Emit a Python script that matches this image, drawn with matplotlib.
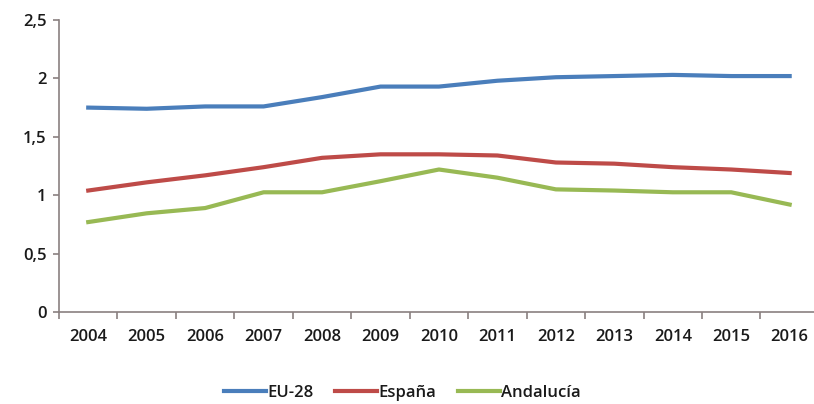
import matplotlib
matplotlib.use("Agg")
import matplotlib.pyplot as plt
from matplotlib.ticker import FixedLocator, FuncFormatter

years = ["2004", "2005", "2006", "2007", "2008", "2009", "2010",
         "2011", "2012", "2013", "2014", "2015", "2016"]
eu28 = [1.75, 1.74, 1.76, 1.76, 1.84, 1.93, 1.93, 1.98, 2.01, 2.02, 2.03, 2.02, 2.02]
espana = [1.04, 1.11, 1.17, 1.24, 1.32, 1.35, 1.35, 1.34, 1.28, 1.27, 1.24, 1.22, 1.19]
andalucia = [0.77, 0.845, 0.89, 1.025, 1.025, 1.12, 1.22, 1.15, 1.05, 1.04, 1.025, 1.025, 0.92]
series_names = ["EU-28", "España", "Andalucía"]
colors = ["#4A7EBB", "#BE4B48", "#98B954"]
yticks = [0, 0.5, 1, 1.5, 2, 2.5]

plt.rcParams['font.family'] = ['Open Sans', 'DejaVu Sans']

fig = plt.figure(figsize=(8.14, 4.04), dpi=100)
ax = fig.add_axes([0.0725, 0.2277, 0.9335, 0.7228])

x = list(range(len(years)))
for vals, name, c in zip([eu28, espana, andalucia], series_names, colors):
    ax.plot(x, vals, color=c, lw=3.0, label=name, solid_joinstyle='round')

ax.set_xlim(-0.5, len(years) - 0.5)
ax.set_ylim(0, 2.5)
ax.set_yticks(yticks)
ax.yaxis.set_major_formatter(FuncFormatter(lambda v, p: ("%g" % v).replace(".", ",")))
ax.set_xticks(x)
ax.set_xticklabels(years)
ax.xaxis.set_minor_locator(FixedLocator([i - 0.5 for i in range(len(years) + 1)]))
ax.tick_params(axis='x', which='major', length=0, pad=12, labelsize=12, colors='#1a1a1a')
ax.tick_params(axis='x', which='minor', length=5, direction='out', color='#8a8080', width=1.2)
ax.tick_params(axis='y', which='major', length=4, direction='out', color='#8a8080', width=1.2,
               labelsize=12, pad=5, labelcolor='#1a1a1a')
for lab in ax.get_xticklabels() + ax.get_yticklabels():
    lab.set_fontweight('semibold')

for s in ['top', 'right']:
    ax.spines[s].set_visible(False)
for s in ['left', 'bottom']:
    ax.spines[s].set_color('#8a8080')
    ax.spines[s].set_linewidth(1.2)

leg = fig.legend(loc='center', bbox_to_anchor=(0.4945, 0.027), ncol=3, frameon=False,
                 handlelength=2.5, handletextpad=0.1, columnspacing=1.3,
                 prop={'size': 12, 'weight': 'semibold'})
for t in leg.get_texts():
    t.set_color('#1a1a1a')

fig.savefig("out.png", dpi=100)
